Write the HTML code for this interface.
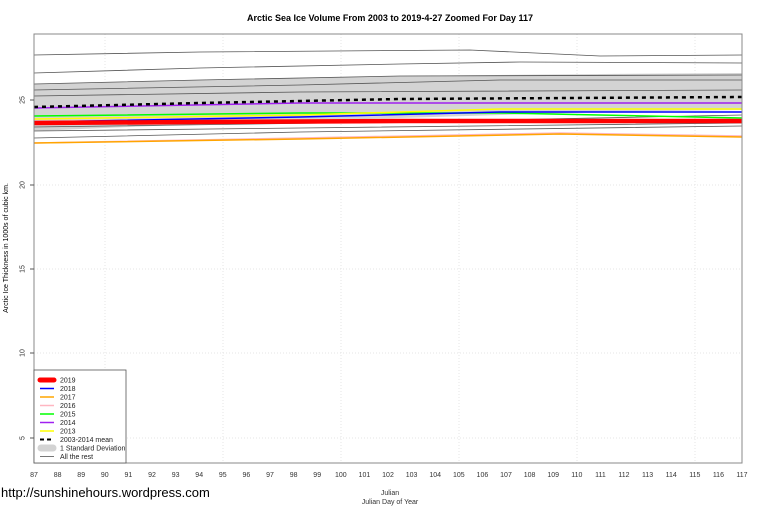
<!DOCTYPE html>
<html><head><style>
body{margin:0;background:#fff;}
svg{display:block;font-family:"Liberation Sans",Arial,sans-serif;}
</style></head><body>
<svg width="760" height="506" viewBox="0 0 760 506">
<rect width="760" height="506" fill="#fff"/>
<text x="390" y="21" font-size="9" font-weight="bold" text-anchor="middle">Arctic Sea Ice Volume From 2003 to 2019-4-27 Zoomed For Day 117</text>
<g stroke="#e6e6e6" stroke-dasharray="1,2" stroke-width="1">
<line x1="105" y1="34" x2="105" y2="463"/><line x1="223" y1="34" x2="223" y2="463"/><line x1="341" y1="34" x2="341" y2="463"/><line x1="459" y1="34" x2="459" y2="463"/><line x1="577" y1="34" x2="577" y2="463"/><line x1="695" y1="34" x2="695" y2="463"/>
<line x1="34" y1="100" x2="742" y2="100"/><line x1="34" y1="185" x2="742" y2="185"/><line x1="34" y1="269" x2="742" y2="269"/><line x1="34" y1="353" x2="742" y2="353"/><line x1="34" y1="438" x2="742" y2="438"/>
</g>
<polygon points="34,84 200,80 400,76 600,74 742,73 742,110 600,112 400,118 200,124 34,131" fill="#d3d3d3"/>
<g fill="none" stroke="#555" stroke-width="0.8">
<polyline points="34,55 200,52 470,50 600,56 742,55"/>
<polyline points="34,73 200,68 400,64 520,62 742,63"/>
<polyline points="34,84 200,80 400,76 742,75"/>
<polyline points="34,90 300,85 500,80 742,80"/>
<polyline points="34,96 300,92 742,90"/>
<polyline points="34,131 300,128 742,123"/>
<polyline points="34,138 300,132 742,126"/>
<polyline points="34,127 400,122 742,115"/>
</g>
<polyline points="34,108 300,103 500,103 742,103" fill="none" stroke="#a020f0" stroke-width="1.5"/>
<polyline points="34,116 300,113 500,113 742,118" fill="none" stroke="#00ff00" stroke-width="1.5"/>
<polyline points="34,119 300,115 500,109 742,109" fill="none" stroke="#ffff00" stroke-width="1.5"/>
<polyline points="34,122 300,117 500,112 742,112" fill="none" stroke="#0000ff" stroke-width="1.5"/>
<polyline points="34,143 300,138 560,133 742,136" fill="none" stroke="#ffb6c1" stroke-width="1.5"/>
<polyline points="34,143 300,139 560,134 742,137" fill="none" stroke="#ffa500" stroke-width="1.5"/>
<polyline points="34,123 200,122 400,121 742,121" fill="none" stroke="#ff0000" stroke-width="4.5"/>
<polyline points="34,107 200,103 400,99 742,97" fill="none" stroke="#000" stroke-width="2.5" stroke-dasharray="4,4"/>
<rect x="34" y="34" width="708" height="429" fill="none" stroke="#888" stroke-width="1"/>
<g font-size="7" fill="#333" text-anchor="middle">
<text x="22" y="100" transform="rotate(-90 22 100)" dy="2.5">25</text>
<text x="22" y="185" transform="rotate(-90 22 185)" dy="2.5">20</text>
<text x="22" y="269" transform="rotate(-90 22 269)" dy="2.5">15</text>
<text x="22" y="353" transform="rotate(-90 22 353)" dy="2.5">10</text>
<text x="22" y="438" transform="rotate(-90 22 438)" dy="2.5">5</text>
</g>
<g stroke="#555"><line x1="30" y1="100" x2="34" y2="100"/><line x1="30" y1="185" x2="34" y2="185"/><line x1="30" y1="269" x2="34" y2="269"/><line x1="30" y1="353" x2="34" y2="353"/><line x1="30" y1="438" x2="34" y2="438"/></g>
<text x="8" y="248" font-size="7" text-anchor="middle" transform="rotate(-90 8 248)">Arctic Ice Thickness in 1000s of cubic km.</text>
<g font-size="7" fill="#333" text-anchor="middle">
<text x="34" y="477">87</text><text x="57.6" y="477">88</text><text x="81.2" y="477">89</text><text x="104.8" y="477">90</text><text x="128.4" y="477">91</text><text x="152" y="477">92</text><text x="175.6" y="477">93</text><text x="199.2" y="477">94</text><text x="222.8" y="477">95</text><text x="246.4" y="477">96</text><text x="270" y="477">97</text><text x="293.6" y="477">98</text><text x="317.2" y="477">99</text><text x="340.8" y="477">100</text><text x="364.4" y="477">101</text><text x="388" y="477">102</text><text x="411.6" y="477">103</text><text x="435.2" y="477">104</text><text x="458.8" y="477">105</text><text x="482.4" y="477">106</text><text x="506" y="477">107</text><text x="529.6" y="477">108</text><text x="553.2" y="477">109</text><text x="576.8" y="477">110</text><text x="600.4" y="477">111</text><text x="624" y="477">112</text><text x="647.6" y="477">113</text><text x="671.2" y="477">114</text><text x="694.8" y="477">115</text><text x="718.4" y="477">116</text><text x="742" y="477">117</text>
</g>
<text x="390" y="495" font-size="7" text-anchor="middle" fill="#333">Julian</text>
<text x="390" y="504" font-size="7" text-anchor="middle" fill="#333">Julian Day of Year</text>
<text x="1" y="497" font-size="13" fill="#000">http://sunshinehours.wordpress.com</text>
<rect x="34" y="370" width="92" height="93" fill="#fff" stroke="#555" stroke-width="0.8"/>
<g stroke-width="1.5">
<line x1="40" y1="380" x2="54" y2="380" stroke="#f00" stroke-width="5" stroke-linecap="round"/>
<line x1="40" y1="388.5" x2="54" y2="388.5" stroke="#00f"/>
<line x1="40" y1="397" x2="54" y2="397" stroke="#ffa500"/>
<line x1="40" y1="405.5" x2="54" y2="405.5" stroke="#ffb6c1"/>
<line x1="40" y1="414" x2="54" y2="414" stroke="#0f0"/>
<line x1="40" y1="422.5" x2="54" y2="422.5" stroke="#a020f0"/>
<line x1="40" y1="431" x2="54" y2="431" stroke="#ff0"/>
<line x1="40" y1="439.5" x2="54" y2="439.5" stroke="#000" stroke-width="2" stroke-dasharray="4,3"/>
<line x1="41" y1="448" x2="53" y2="448" stroke="#d3d3d3" stroke-width="7" stroke-linecap="round"/>
<line x1="40" y1="456.5" x2="54" y2="456.5" stroke="#555" stroke-width="0.8"/>
</g>
<g font-size="7" fill="#222">
<text x="60" y="382.5">2019</text><text x="60" y="391">2018</text><text x="60" y="399.5">2017</text><text x="60" y="408">2016</text><text x="60" y="416.5">2015</text><text x="60" y="425">2014</text><text x="60" y="433.5">2013</text><text x="60" y="442">2003-2014 mean</text><text x="60" y="450.5">1 Standard Deviation</text><text x="60" y="459">All the rest</text>
</g>
</svg>
</body></html>
